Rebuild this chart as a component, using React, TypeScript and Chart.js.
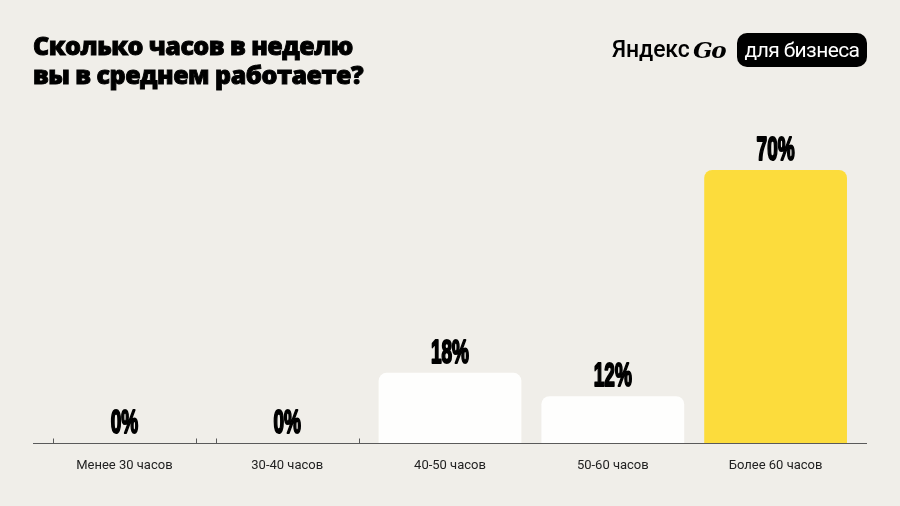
import React, { useEffect, useRef } from 'react';
import { Chart, registerables } from 'chart.js';

Chart.register(...registerables);

const categories = ['Менее 30 часов', '30-40 часов', '40-50 часов', '50-60 часов', 'Более 60 часов'];
const shares = [0, 0, 18, 12, 70];
const barColors = ['#fefefd', '#fefefd', '#fefefd', '#fefefd', '#fcdc3c'];

const BG = '#f0eee9';

// axis line runs a bit past the first and last bar, plus little ticks on empty bars
const axisPlugin = {
  id: 'axisLine',
  afterDatasetsDraw(chart: any) {
    const { ctx, chartArea } = chart;
    const y = chartArea.bottom + 0.5;
    ctx.save();
    ctx.strokeStyle = '#5a5a5a';
    ctx.lineWidth = 1;
    ctx.beginPath();
    ctx.moveTo(chartArea.left - 10, y);
    ctx.lineTo(chartArea.right + 10, y);
    ctx.stroke();
    const meta = chart.getDatasetMeta(0);
    meta.data.forEach((bar: any, i: number) => {
      if (shares[i] !== 0) return;
      const half = bar.width / 2;
      [bar.x - half, bar.x + half].forEach((x) => {
        ctx.beginPath();
        ctx.moveTo(Math.round(x) + 0.5, y - 5);
        ctx.lineTo(Math.round(x) + 0.5, y);
        ctx.stroke();
      });
    });
    ctx.restore();
  },
};

// squeezed heavy percentages above each bar
const valueLabels = {
  id: 'valueLabels',
  afterDatasetsDraw(chart: any) {
    const { ctx } = chart;
    const meta = chart.getDatasetMeta(0);
    ctx.save();
    ctx.fillStyle = '#000';
    ctx.strokeStyle = '#000';
    ctx.lineWidth = 2.2;
    ctx.lineJoin = 'round';
    ctx.font = 'bold 34px "Liberation Sans", Arial, sans-serif';
    ctx.textAlign = 'center';
    ctx.textBaseline = 'alphabetic';
    meta.data.forEach((bar: any, i: number) => {
      ctx.save();
      ctx.translate(bar.x, bar.y - 10);
      ctx.scale(0.56, 1);
      ctx.fillText(shares[i] + '%', 0, 0);
      ctx.strokeText(shares[i] + '%', 0, 0);
      ctx.restore();
    });
    ctx.restore();
  },
};

const HoursChart = () => {
  const chartRef = useRef<HTMLCanvasElement | null>(null);
  const myChartRef = useRef<Chart | null>(null);

  useEffect(() => {
    if (myChartRef.current) {
      myChartRef.current.destroy();
    }

    const data = {
      labels: categories,
      datasets: [
        {
          label: 'Доля',
          data: shares,
          backgroundColor: barColors,
          borderWidth: 0,
          borderRadius: { topLeft: 8, topRight: 8, bottomLeft: 0, bottomRight: 0 },
          borderSkipped: false,
          barPercentage: 1,
          categoryPercentage: 0.877,
        },
      ],
    };

    const options: any = {
      responsive: true,
      maintainAspectRatio: false,
      animation: false,
      layout: { padding: { left: 43, right: 43, top: 131, bottom: 0 } },
      plugins: {
        legend: { display: false },
        tooltip: { enabled: false },
      },
      scales: {
        x: {
          grid: { display: false, drawTicks: false },
          border: { display: false },
          afterFit: (scale: any) => {
            scale.height = 63;
          },
          ticks: {
            padding: 15,
            color: '#222',
            font: { family: 'Roboto, "Noto Sans", sans-serif', size: 13 },
          },
        },
        y: {
          display: false,
          min: 0,
          max: 80,
        },
      },
    };

    if (chartRef.current) {
      myChartRef.current = new Chart(chartRef.current, {
        type: 'bar',
        data: data,
        options: options,
        plugins: [axisPlugin, valueLabels],
      });
    }

    return () => {
      if (myChartRef.current) {
        myChartRef.current.destroy();
      }
    };
  }, []);

  return (
    <div style={{ position: 'absolute', left: 0, top: 0, width: '900px', height: '506px' }}>
      <canvas ref={chartRef} />
    </div>
  );
};

export default function App() {
  useEffect(() => {
    document.body.style.margin = '0';
  }, []);

  return (
    <div
      style={{
        position: 'relative',
        width: '900px',
        height: '506px',
        background: BG,
        overflow: 'hidden',
        fontFamily: 'Roboto, "Noto Sans", sans-serif',
      }}
    >
      <HoursChart />
      <div
        style={{
          position: 'absolute',
          left: '33px',
          top: '31px',
          fontFamily: '"Open Sans", sans-serif',
          fontWeight: 800,
          fontSize: '25px',
          lineHeight: '29px',
          letterSpacing: '-0.5px',
          WebkitTextStroke: '0.9px #000',
          color: '#000',
        }}
      >
        Сколько часов в неделю
        <br />
        вы в среднем работаете?
      </div>
      <span
        style={{
          position: 'absolute',
          left: '612px',
          top: '34px',
          lineHeight: '32px',
          fontFamily: 'Roboto, sans-serif',
          fontWeight: 500,
          fontSize: '23px',
          letterSpacing: '-0.1px',
          color: '#000',
        }}
      >
        Яндекс
      </span>
      <span
        style={{
          position: 'absolute',
          left: '693px',
          top: '34px',
          lineHeight: '32px',
          fontFamily: '"DejaVu Serif", serif',
          fontStyle: 'italic',
          fontWeight: 900,
          fontSize: '23px',
          letterSpacing: '-1.5px',
          color: '#000',
        }}
      >
        Go
      </span>
      <span
        style={{
          position: 'absolute',
          left: '737px',
          top: '33px',
          background: '#000',
          color: '#fff',
          borderRadius: '10px',
          width: '130px',
          height: '34px',
          display: 'flex',
          alignItems: 'center',
          justifyContent: 'center',
          fontFamily: 'Roboto, sans-serif',
          fontSize: '21px',
          letterSpacing: '-0.6px',
        }}
      >
        для бизнеса
      </span>
    </div>
  );
}
